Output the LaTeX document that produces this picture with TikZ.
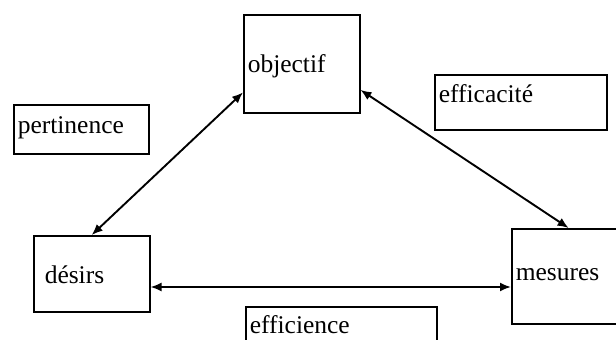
\documentclass[tikz,border=0pt]{standalone}
\usepackage{fontspec}
\setmainfont{Liberation Serif}
\usetikzlibrary{arrows.meta}
\begin{document}
\begin{tikzpicture}[x=1pt,y=-1pt,
  box/.style={draw,line width=1.5pt,rectangle,anchor=north west,inner xsep=4pt,inner ysep=0pt,
    align=left,font=\fontsize{25.5}{29}\selectfont},
  link/.style={line width=1.9pt,{Latex[length=11pt,width=9pt]}-{Latex[length=11pt,width=9pt]}}]
\useasboundingbox (0,0) rectangle (616,340);
\node[box,minimum width=116pt,minimum height=98pt,text width=108pt,text height=19pt,text depth=1pt] (objectif) at (243,14) {objectif};
\node[box,minimum width=135pt,minimum height=49pt,text width=127pt,text height=17pt,text depth=8pt] (pertinence) at (13,104) {pertinence};
\node[box,minimum width=172pt,minimum height=55pt,text width=164pt,text height=17pt,text depth=17pt] (efficacite) at (434,74) {efficacité};
\node[box,minimum width=116pt,minimum height=76pt,text width=108pt,text height=20pt,text depth=0pt] (desirs) at (33,235) {\hspace*{7pt}désirs};
\node[box,minimum width=129pt,minimum height=95pt,text width=121pt,text height=17pt,text depth=8pt,inner xsep=2pt] (mesures) at (511,228) {mesures};
\node[box,minimum width=191pt,minimum height=44pt,text width=183pt,text height=17pt,text depth=7pt] (efficience) at (245,306) {efficience};
\coordinate (h) at (0,287);
\draw[link] (objectif.206.6) -- (desirs.north);
\draw[link] (objectif.336.7) -- (mesures.99);
\draw[link] (desirs.east |- h) -- (mesures.west |- h);
\end{tikzpicture}
\end{document}
